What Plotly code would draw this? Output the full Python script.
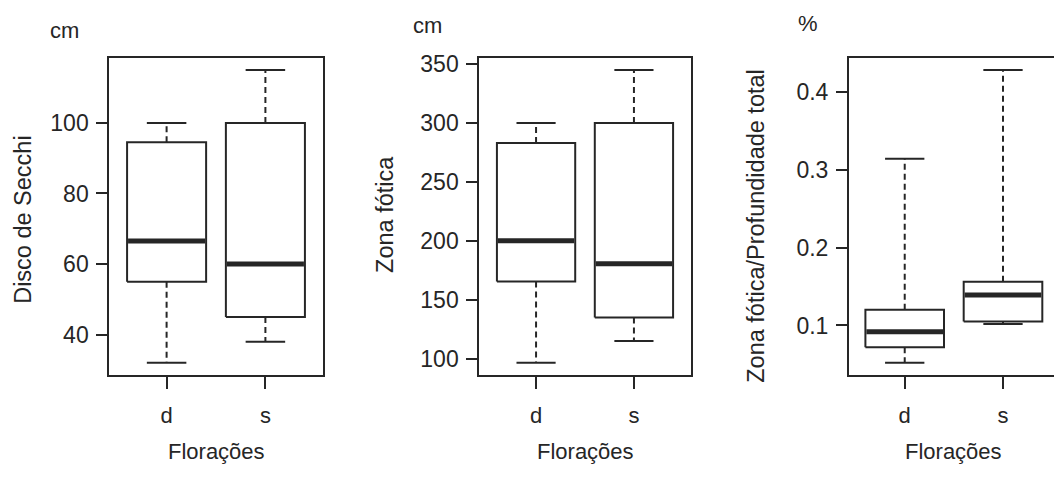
import plotly.graph_objects as go

# ---------------- data ----------------
groups = ["d", "s"]

# Disco de Secchi (cm)
secchi_lower = [32, 38]
secchi_q1 = [55, 45]
secchi_median = [66.5, 60]
secchi_q3 = [94.5, 100]
secchi_upper = [100, 115]

# Zona fótica (cm)
zona_lower = [96.5, 115]
zona_q1 = [165.5, 135]
zona_median = [200, 180.5]
zona_q3 = [283, 300]
zona_upper = [300, 345]

# Zona fótica / Profundidade total (%)
razao_lower = [0.052, 0.102]
razao_q1 = [0.072, 0.105]
razao_median = [0.092, 0.139]
razao_q3 = [0.120, 0.156]
razao_upper = [0.314, 0.428]

y_titles = ["Disco de Secchi", "Zona fótica", "Zona fótica/Profundidade total"]
units = ["cm", "cm", "%"]
x_title = "Florações"
y_ticks = [[40, 60, 80, 100], [100, 150, 200, 250, 300, 350], [0.1, 0.2, 0.3, 0.4]]
y_ticktext = [["40", "60", "80", "100"], ["100", "150", "200", "250", "300", "350"],
              ["0.1", "0.2", "0.3", "0.4"]]

panels = [
    (secchi_lower, secchi_q1, secchi_median, secchi_q3, secchi_upper),
    (zona_lower, zona_q1, zona_median, zona_q3, zona_upper),
    (razao_lower, razao_q1, razao_median, razao_q3, razao_upper),
]

# ---------------- styling ----------------
W, H = 1054, 479
INK = "#262626"
FONT = "Liberation Sans, Arial, Helvetica, sans-serif"
FS = 22
BOXW = 0.8      # R boxwex
CAPW = 0.4      # staple width

x_domains = [[109.3 / W, 322.7 / W], [479.3 / W, 690.7 / W], [849 / W, 1.0]]
x_ranges = [[0.42, 2.58], [0.42, 2.58], [0.433, 2.519]]
y_domain = [1 - 373 / H, 1 - 52 / H]

fig = go.Figure()

for p, (lo, q1, med, q3, up) in enumerate(panels):
    sfx = "" if p == 0 else str(p + 1)
    xa, ya = "x" + sfx, "y" + sfx
    for i in range(len(groups)):
        pos = i + 1
        # dashed whiskers
        for a, b in ((q3[i], up[i]), (q1[i], lo[i])):
            fig.add_trace(go.Scatter(x=[pos, pos], y=[a, b], mode="lines",
                                     line=dict(color=INK, width=2, dash="6px,4px"),
                                     xaxis=xa, yaxis=ya, showlegend=False, hoverinfo="skip"))
        # staples
        for v in (up[i], lo[i]):
            fig.add_trace(go.Scatter(x=[pos - CAPW / 2, pos + CAPW / 2], y=[v, v], mode="lines",
                                     line=dict(color=INK, width=2),
                                     xaxis=xa, yaxis=ya, showlegend=False, hoverinfo="skip"))
        # box
        l, r = pos - BOXW / 2, pos + BOXW / 2
        fig.add_trace(go.Scatter(x=[l, r, r, l, l], y=[q1[i], q1[i], q3[i], q3[i], q1[i]],
                                 mode="lines", fill="toself", fillcolor="white",
                                 line=dict(color=INK, width=2),
                                 xaxis=xa, yaxis=ya, showlegend=False, hoverinfo="skip"))
        # median
        fig.add_trace(go.Scatter(x=[l + 0.01, r - 0.01], y=[med[i], med[i]], mode="lines",
                                 line=dict(color=INK, width=5),
                                 xaxis=xa, yaxis=ya, showlegend=False, hoverinfo="skip"))

    # axes
    ymin, ymax = min(lo), max(up)
    pad = 0.04 * (ymax - ymin)
    fig.layout["xaxis" + sfx] = dict(
        domain=x_domains[p], anchor=ya, range=x_ranges[p],
        tickvals=[1, 2], ticktext=groups, ticks="outside", ticklen=12, tickwidth=2,
        tickcolor=INK, showline=True, linecolor=INK, linewidth=2, mirror=True,
        showgrid=False, zeroline=False, tickfont=dict(size=FS, color=INK, family=FONT),
        ticklabelstandoff=8, fixedrange=True)
    fig.layout["yaxis" + sfx] = dict(
        domain=y_domain, anchor=xa, range=[ymin - pad, ymax + pad],
        tickvals=y_ticks[p], ticktext=y_ticktext[p], ticks="outside", ticklen=11,
        tickwidth=2, tickcolor=INK, showline=True, linecolor=INK, linewidth=2,
        mirror=(p < 2), showgrid=False, zeroline=False,
        tickfont=dict(size=FS + 1, color=INK, family=FONT), ticklabelstandoff=3,
        fixedrange=True)

    # x title
    fig.add_annotation(x=1.5, xref=xa, y=1 - 451 / H, yref="paper", text=x_title,
                       showarrow=False, font=dict(size=FS, color=INK, family=FONT),
                       xanchor="center", yanchor="middle")

ytitle_pos = [(23, 216), (385, 211), (756, 222)]
unit_pos = [(64.5, 24), (427.5, 19), (808, 17)]
for p in range(3):
    tx, ty = ytitle_pos[p]
    fig.add_annotation(x=tx / W, xref="paper", y=1 - ty / H, yref="paper", text=y_titles[p],
                       textangle=-90, showarrow=False,
                       font=dict(size=FS + 1.5, color=INK, family=FONT),
                       xanchor="center", yanchor="middle")
    ux, uy = unit_pos[p]
    fig.add_annotation(x=ux / W, xref="paper", y=1 - uy / H, yref="paper", text=units[p],
                       showarrow=False, font=dict(size=FS, color=INK, family=FONT),
                       xanchor="center", yanchor="middle")

fig.update_layout(width=W, height=H, margin=dict(l=0, r=0, t=0, b=0),
                  paper_bgcolor="white", plot_bgcolor="white",
                  font=dict(family=FONT, color=INK, size=FS), showlegend=False)

fig.write_html("out.html", config={"displayModeBar": False},
               post_script="document.body.style.margin='0px';"
                           "document.body.style.overflow='hidden';")
